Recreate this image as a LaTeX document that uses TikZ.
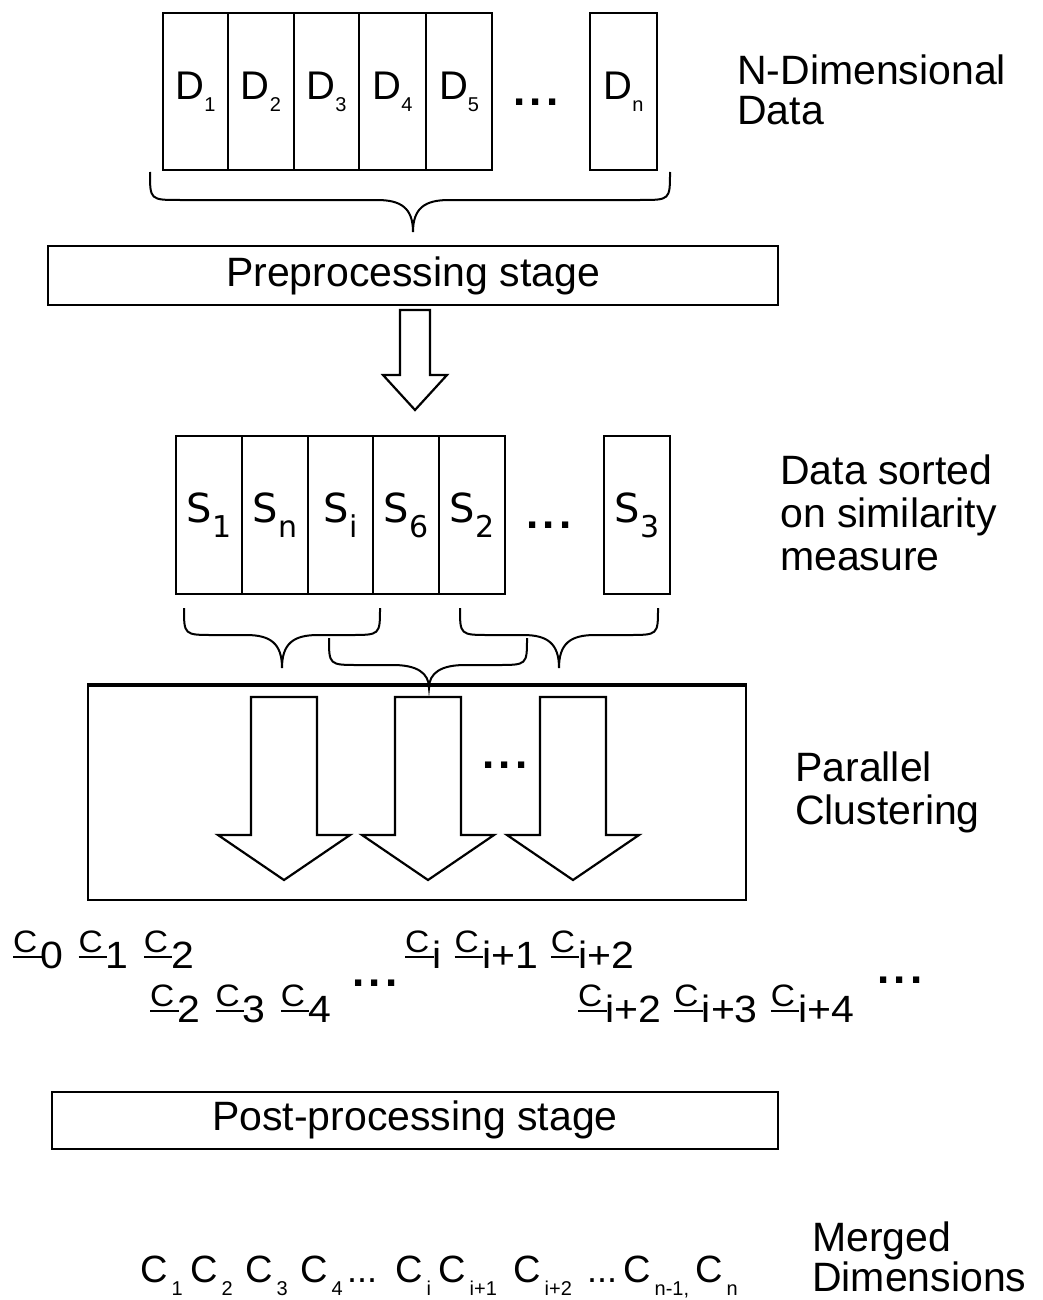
\documentclass[tikz,border=0pt]{standalone}
\usepackage{fontspec}
\usepackage{graphicx}
\setmainfont{Liberation Sans}
\newfontfamily\dejavu{DejaVu Sans}
\newcommand\fs[1]{\fontsize{#1}{#1}\selectfont}
\newcommand\dlab[2]{{\fs{40}#1\raisebox{-12pt}{\fs{20}#2}}}
\newcommand\slab[2]{{\dejavu\fs{40}#1\raisebox{-15pt}{\fs{30}#2}}}
\newcommand\cg[1]{\raisebox{16pt}{\fs{31}\sbox0{C}\rlap{\rule[-6pt]{\dimexpr\wd0+4pt\relax}{2pt}}\usebox0}\kern3pt{\fs{38}#1}}
\newcommand\bc[2]{\makebox[#1pt][l]{{\fs{38}C}\kern4pt\raisebox{-13pt}{\fs{20}#2}}}
\newcommand\bdots[1]{\makebox[#1pt][l]{\fs{36}...}}
\newcommand\bigdots{{\fs{44}\bfseries .\kern4pt.\kern4pt.}}
% brace: x1, x2, y0, ymid, ytip, xm
\newcommand\curly[6]{%
  \draw[bracel] (#1,#3) .. controls (#1,#4) .. ({#1+30},#4) -- ({#6-36},#4)
     .. controls ({#6-12},#4) and (#6,{#4+8}) .. (#6,#5)
     .. controls (#6,{#4+8}) and ({#6+12},#4) .. ({#6+36},#4) -- ({#2-30},#4)
     .. controls (#2,#4) .. (#2,#3);}
% block arrow: xc, ytop, ybase, ytip
\newcommand\blockarrow[4]{%
  \draw[barrow] ({#1-33},#2) -- ({#1-33},#3) -- ({#1-66},#3) -- (#1,#4)
     -- ({#1+66},#3) -- ({#1+33},#3) -- ({#1+33},#2) -- cycle;}
\begin{document}
\begin{tikzpicture}[x=1pt,y=-1pt,
  cell/.style={draw, line width=2.2pt, minimum height=157pt, inner sep=0pt},
  scell/.style={draw, line width=2.2pt, minimum height=158pt, inner sep=0pt},
  stagebox/.style={draw, line width=2pt, inner sep=0pt, font=\fs{41}},
  lab/.style={anchor=north west, inner sep=0pt, align=left, font=\fontsize{41}{43}\selectfont},
  txt/.style={inner sep=0pt},
  bracel/.style={line width=2pt},
  barrow/.style={line width=2.2pt, line join=miter}]
\useasboundingbox (0,0) rectangle (1042,1300);
% N-dimensional data
\node[cell, minimum width=65pt] (d1) at (195.5,91.5) {\dlab{D}{1}};
\node[cell, minimum width=66pt] (d2) at (261,91.5) {\dlab{D}{2}};
\node[cell, minimum width=65pt] (d3) at (326.5,91.5) {\dlab{D}{3}};
\node[cell, minimum width=67pt] (d4) at (392.5,91.5) {\dlab{D}{4}};
\node[cell, minimum width=66pt] (d5) at (459,91.5) {\dlab{D}{5}};
\node[txt] (ddots) at (536,102) {\bigdots};
\node[cell, minimum width=67pt] (dn) at (623.5,91.5) {\dlab{D}{n}};
\node[lab, font=\fontsize{41}{40}\selectfont] (ndlab) at (737,55) {N-Dimensional\\Data};
\curly{150}{670}{172}{200}{232}{413}
% preprocessing
\node[stagebox, minimum width=730pt, minimum height=59pt] (pre) at (413,275.5) {Preprocessing stage};
\draw[barrow] (400,310) -- (400,375) -- (383,375) -- (415,410) -- (447,375) -- (430,375) -- (430,310) -- cycle;
% sorted data
\node[scell, minimum width=66pt] (s1) at (209,515) {\slab{S}{1}};
\node[scell, minimum width=66pt] (sn) at (275,515) {\slab{S}{n}};
\node[scell, minimum width=65pt] (si) at (340.5,515) {\slab{S}{i}};
\node[scell, minimum width=66pt] (s6) at (406,515) {\slab{S}{6}};
\node[scell, minimum width=66pt] (s2) at (472,515) {\slab{S}{2}};
\node[txt] (sdots) at (549,525) {\bigdots};
\node[scell, minimum width=66pt] (s3) at (637,515) {\slab{S}{3}};
\node[lab] (sortlab) at (780,455) {Data sorted\\on similarity\\measure};
\curly{184}{380}{608}{635}{668}{282}
\curly{460}{658}{608}{635}{668}{559}
\curly{329}{527}{638}{665}{688}{429}
% parallel clustering
\node[draw, line width=2pt, minimum width=658pt, minimum height=214pt, inner sep=0pt] (clus) at (417,793) {};
\draw[line width=3.2pt] (clus.north west) -- (clus.north east);
\blockarrow{284}{697}{835}{880}
\blockarrow{428}{697}{835}{880}
\blockarrow{573}{697}{835}{880}
\node[txt] (cdots) at (505,765) {\bigdots};
\node[lab] (parlab) at (795,752) {Parallel\\Clustering};
% cluster outputs
\node[txt, anchor=base west] (r1a) at (13,968) {\scalebox{1.08}[1]{\cg{0}\hspace{14pt}\cg{1}\hspace{14pt}\cg{2}}};
\node[txt, anchor=base west] (r2a) at (150,1022) {\scalebox{1.08}[1]{\cg{2}\hspace{14pt}\cg{3}\hspace{14pt}\cg{4}}};
\node[txt] (rdots1) at (375,983) {\bigdots};
\node[txt, anchor=base west] (r1b) at (405,968) {\scalebox{1.08}[1]{\cg{i}\hspace{12pt}\cg{i+1}\hspace{12pt}\cg{i+2}}};
\node[txt, anchor=base west] (r2b) at (578,1022) {\scalebox{1.08}[1]{\cg{i+2}\hspace{12pt}\cg{i+3}\hspace{12pt}\cg{i+4}}};
\node[txt] (rdots2) at (900,980) {\bigdots};
% post-processing
\node[stagebox, minimum width=726pt, minimum height=57pt] (post) at (415,1120) {Post-processing stage};
% merged
\node[txt, anchor=base west] (merged) at (140,1282) {\bc{50}{1}\bc{55}{2}\bc{55}{3}\bc{47}{4}\bdots{48}\bc{43}{i}\bc{75}{i+1}\bc{74}{i+2}\bdots{36}\bc{72}{n-1,}\bc{50}{n}};
\node[lab, font=\fontsize{41}{40}\selectfont] (mergelab) at (812,1222) {Merged\\Dimensions};
\end{tikzpicture}
\end{document}
